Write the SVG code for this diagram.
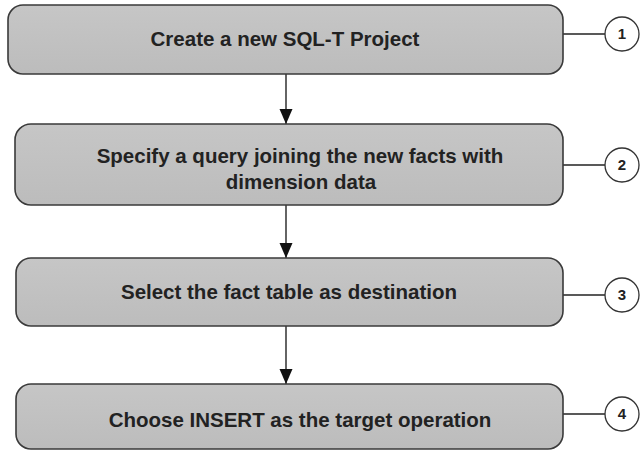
<svg xmlns="http://www.w3.org/2000/svg" width="640" height="451" viewBox="0 0 640 451">
<defs>
<linearGradient id="g" x1="0" y1="0" x2="0" y2="1">
<stop offset="0" stop-color="#c6c6c6"/>
<stop offset="1" stop-color="#bcbcbc"/>
</linearGradient>
<marker id="ah" markerWidth="16" markerHeight="14" refX="15" refY="6.5" orient="auto" markerUnits="userSpaceOnUse">
<path d="M0,0 L15,6.5 L0,13 Z" fill="#111"/>
</marker>
</defs>
<style>
.box{fill:url(#g);stroke:#3a3a3a;stroke-width:1.6}
.t{font-family:"Liberation Sans",Arial,sans-serif;font-weight:bold;font-size:20.5px;fill:#222;text-anchor:middle}
.n{font-family:"Liberation Sans",Arial,sans-serif;font-weight:bold;font-size:15px;fill:#222;text-anchor:middle}
.c{fill:#fff;stroke:#333;stroke-width:1.3}
.l{stroke:#222;stroke-width:1.3;fill:none}
.a{stroke:#111;stroke-width:1.3;fill:none;marker-end:url(#ah)}
</style>
<rect width="640" height="451" fill="#fff"/>
<g id="connectors">
<line class="a" x1="286" y1="74" x2="286" y2="124"/>
<line class="a" x1="286" y1="205" x2="286" y2="258"/>
<line class="a" x1="286" y1="326" x2="286" y2="384"/>
<line class="l" x1="563" y1="34" x2="605" y2="34"/>
<line class="l" x1="563" y1="165" x2="605" y2="165"/>
<line class="l" x1="563" y1="295" x2="605" y2="295"/>
<line class="l" x1="563" y1="414" x2="605" y2="414"/>
</g>
<g id="step1">
<rect class="box" x="8" y="5" width="555" height="69" rx="15"/>
<text class="t" x="285" y="46">Create a new SQL-T Project</text>
</g>
<g id="step2">
<rect class="box" x="15" y="124" width="548" height="81" rx="16"/>
<text class="t" x="300" y="163">Specify a query joining the new facts with</text>
<text class="t" x="301" y="189">dimension data</text>
</g>
<g id="step3">
<rect class="box" x="16" y="258" width="547" height="68" rx="15"/>
<text class="t" x="289" y="299">Select the fact table as destination</text>
</g>
<g id="step4">
<rect class="box" x="16" y="384" width="547" height="65" rx="15"/>
<text class="t" x="300" y="427">Choose INSERT as the target operation</text>
</g>
<g id="badge1">
<circle class="c" cx="622" cy="34" r="17"/>
<text class="n" x="622" y="39">1</text>
</g>
<g id="badge2">
<circle class="c" cx="622" cy="165" r="17"/>
<text class="n" x="622" y="170">2</text>
</g>
<g id="badge3">
<circle class="c" cx="622" cy="295" r="17"/>
<text class="n" x="622" y="300">3</text>
</g>
<g id="badge4">
<circle class="c" cx="622" cy="414" r="17"/>
<text class="n" x="622" y="419">4</text>
</g>
</svg>
